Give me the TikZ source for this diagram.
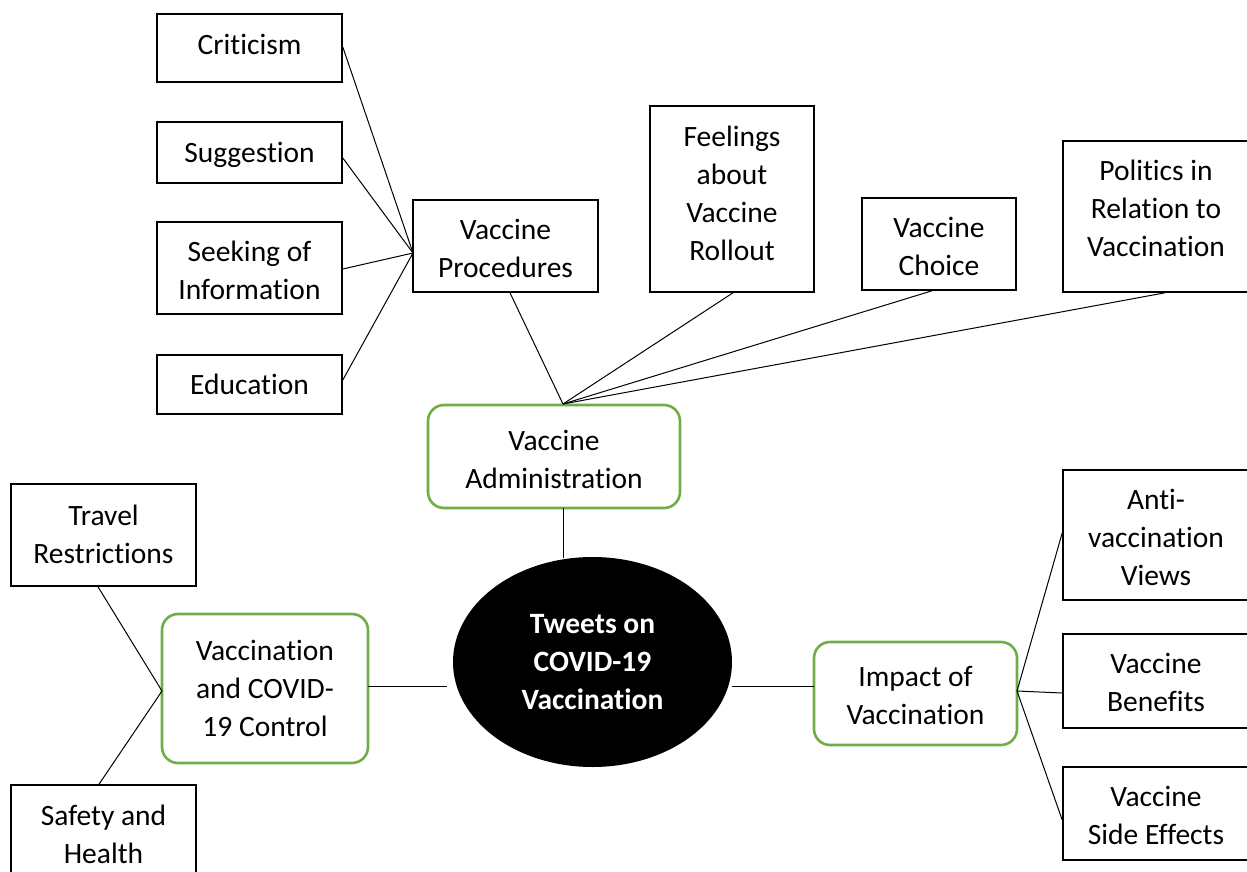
\documentclass[tikz,border=0pt]{standalone}
\usepackage{fontspec}
\setmainfont{Carlito}[RawFeature={-liga;-clig;-dlig;-calt;-rlig}]
\usetikzlibrary{shapes.geometric}
\definecolor{vgreen}{RGB}{112,173,71}
\newcommand\tx[2]{\raisebox{#1pt}[\height][\depth]{\begin{tabular}{@{}c@{}}#2\end{tabular}}}
\newcommand\ti{t\kern0pt i}
\begin{document}
\begin{tikzpicture}[x=1pt,y=-1pt,
  every node/.style={font=\fontsize{29.5}{38}\selectfont, inner sep=0pt},
  sqbox/.style={draw=black, line width=1.6pt, fill=white},
  grbox/.style={draw=vgreen, line width=2.6pt, rounded corners=16pt, fill=white},
  conn/.style={draw=black, line width=1pt}]
\useasboundingbox (0,0) rectangle (1247,872);
\clip (0,0) rectangle (1247,872);
% connector end points
\coordinate (vpin) at (413,253);
\coordinate (vatop) at (563,404);
\coordinate (vabot) at (563,508);
\coordinate (elltop) at (563,558);
\coordinate (vccin) at (162,691);
\coordinate (ellL) at (447,686);
\coordinate (vccR) at (368,686);
\coordinate (ellR) at (732,686);
\coordinate (impL) at (814,686);
\coordinate (impR) at (1017,691);
% nodes
\node[sqbox, minimum width=185pt, minimum height=68pt] (crit) at (249.5,48) {\tx{1}{Cri\ti cism}};
\node[sqbox, minimum width=185pt, minimum height=61pt] (sugg) at (249.5,152.5) {\tx{-2}{Sugges\ti on}};
\node[sqbox, minimum width=185pt, minimum height=92pt] (seek) at (249.5,268) {\tx{-5}{Seeking of\\Informa\ti on}};
\node[sqbox, minimum width=185pt, minimum height=59pt] (educ) at (249.5,384.5) {\tx{-2}{Educa\ti on}};
\node[sqbox, minimum width=185pt, minimum height=92pt] (vp) at (505.5,246) {\tx{-5}{Vaccine\\Procedures}};
\node[sqbox, minimum width=164pt, minimum height=186pt] (feel) at (732,199) {\tx{3}{Feelings\\about\\Vaccine\\Rollout}};
\node[sqbox, minimum width=154pt, minimum height=92pt] (choice) at (939,244) {\tx{-5}{Vaccine\\Choice}};
\node[sqbox, minimum width=186pt, minimum height=151pt] (pol) at (1156,216.5) {\tx{5.5}{Poli\ti cs in\\Rela\ti on to\\Vaccina\ti on}};
\node[grbox, minimum width=252pt, minimum height=103pt] (va) at (554,456.5) {\tx{-5.5}{Vaccine\\Administra\ti on}};
\node[ellipse, fill=black, minimum width=279pt, minimum height=210pt, text=white, font=\fontsize{29.5}{38}\selectfont\bfseries] (ell) at (592.5,662) {\tx{-1.5}{Tweets on\\COVID-19\\Vaccina\ti on}};
\node[sqbox, minimum width=185pt, minimum height=102pt] (travel) at (103.5,535) {\tx{-2}{Travel\\Restric\ti ons}};
\node[grbox, minimum width=206pt, minimum height=149pt] (vcc) at (265,688.5) {\tx{-2.5}{Vaccina\ti on\\and COVID-\\19 Control}};
\node[sqbox, minimum width=185pt, minimum height=110pt] (safe) at (103.5,840) {\tx{3}{Safety and\\Health}};
\node[grbox, minimum width=203pt, minimum height=103pt] (imp) at (915.5,693.5) {\tx{-4.5}{Impact of\\Vaccina\ti on}};
\node[sqbox, minimum width=186pt, minimum height=130pt] (anti) at (1156,535) {\tx{-5}{An\ti-\\vaccina\ti on\\Views}};
\node[sqbox, minimum width=186pt, minimum height=94pt] (ben) at (1156,681) {\tx{-4}{Vaccine\\Benefits}};
\node[sqbox, minimum width=186pt, minimum height=93pt] (side) at (1156,813.5) {\tx{-4.5}{Vaccine\\Side Effects}};
% connectors
\draw[conn] (crit.east) ++(0,-1) -- (vpin);
\draw[conn] (sugg.east) ++(0,5.5) -- (vpin);
\draw[conn] (seek.east) ++(0,1) -- (vpin);
\draw[conn] (educ.east) ++(0,-4.5) -- (vpin);
\draw[conn] (vp.south) ++(4.5,0) -- (vatop);
\draw[conn] (feel.south) ++(1,0) -- (vatop);
\draw[conn] (choice.south) ++(-7,0) -- (vatop);
\draw[conn] (pol.south) ++(9,0) -- (vatop);
\draw[conn] (vabot) -- (elltop);
\draw[conn] (travel.south) ++(-5.5,0) -- (vccin);
\draw[conn] (safe.north) ++(-4.5,0) -- (vccin);
\draw[conn] (vccR) -- (ellL);
\draw[conn] (ellR) -- (impL);
\draw[conn] (impR) -- (anti.west |- 0,533);
\draw[conn] (impR) -- (ben.west |- 0,693);
\draw[conn] (impR) -- (side.west |- 0,820);
\end{tikzpicture}
\end{document}
